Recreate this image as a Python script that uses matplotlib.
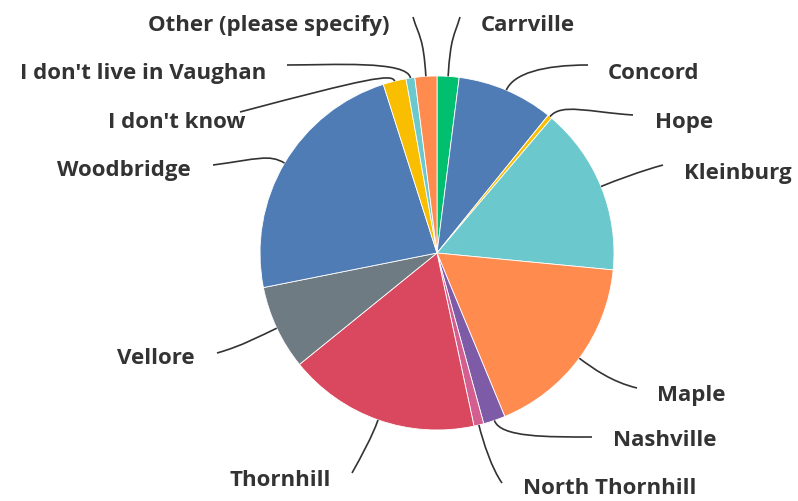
import matplotlib.pyplot as plt
import numpy as np
from matplotlib.path import Path
from matplotlib.patches import PathPatch

# data (percent of respondents, clockwise from 12 o'clock)
labels = ['Carrville', 'Concord', 'Hope', 'Kleinburg', 'Maple', 'Nashville',
          'North Thornhill', 'Thornhill', 'Vellore', 'Woodbridge',
          "I don't know", "I don't live in Vaughan", 'Other (please specify)']
values = [2.0, 8.8, 0.4, 15.3, 17.2, 2.0, 0.9, 17.5, 7.7, 23.2, 2.1, 0.8, 2.0]
colors = ['#00bf6f', '#507cb6', '#f9be00', '#6bc8cd', '#ff8b4f', '#7d5ba6',
          '#d25f90', '#d9485e', '#6f7b83', '#507cb6', '#f9be00', '#6bc8cd', '#ff8b4f']

# leader end, bend control (offset from end), text position, alignment
# (pixel coords, y measured from the top)
label_pos = {
    'Carrville': ((460, 17), (-6, 20), (481, 25), 'left'),
    'Concord': ((588, 65), (-45, 0), (608, 73), 'left'),
    'Hope': ((633, 115), (-45, -3), (655, 122), 'left'),
    'Kleinburg': ((663, 165), (-22, 6), (684, 173), 'left'),
    'Maple': ((637, 388), (-25, -6), (657, 395), 'left'),
    'Nashville': ((592, 437), (-45, 0), (613, 440), 'left'),
    'North Thornhill': ((502, 483), (-10, -14), (523, 488), 'left'),
    'Thornhill': ((352, 473), (10, -18), (331, 480), 'right'),
    'Vellore': ((217, 353), (25, -7), (195, 358), 'right'),
    'Woodbridge': ((213, 165), (45, -6), (191, 170), 'right'),
    "I don't know": ((240, 112), (128, -34), (245, 122), 'right'),
    "I don't live in Vaughan": ((287, 65), (45, 0), (266, 73), 'right'),
    'Other (please specify)': ((413, 17), (6, 20), (390, 25), 'right'),
}
stubs = {'Carrville': 40, 'Other (please specify)': 40, "I don't know": 8}

W, H = 798, 501
cx, cy, R = 437, H - 253, 177

fig = plt.figure(figsize=(W / 100, H / 100), dpi=100)
ax = fig.add_axes([0, 0, 1, 1])

wedges, _ = ax.pie(values, colors=colors, startangle=90, counterclock=False,
                   center=(cx, cy), radius=R,
                   wedgeprops=dict(edgecolor='white', linewidth=0.6))
ax.set_xlim(0, W)
ax.set_ylim(0, H)
ax.set_aspect('equal')
ax.axis('off')

for w, lab in zip(wedges, labels):
    mid = np.deg2rad((w.theta1 + w.theta2) / 2)
    ux, uy = np.cos(mid), np.sin(mid)
    stub = stubs.get(lab, 18)
    p0 = (cx + R * ux, cy + R * uy)
    p1 = (cx + (R + stub) * ux, cy + (R + stub) * uy)
    (ex, ey), (bx, by), (tx, ty), ha = label_pos[lab]
    end = (ex, H - ey)
    p2 = (ex + bx, H - (ey + by))
    path = Path([p0, p1, p2, end],
                [Path.MOVETO, Path.CURVE4, Path.CURVE4, Path.CURVE4])
    ax.add_patch(PathPatch(path, fill=False, edgecolor='#333333', linewidth=1.2))
    ax.text(tx, H - ty, lab, ha=ha, va='center', fontsize=16,
            fontweight='bold', family='Open Sans', color='#333333')

fig.savefig('out.png', dpi=100)
